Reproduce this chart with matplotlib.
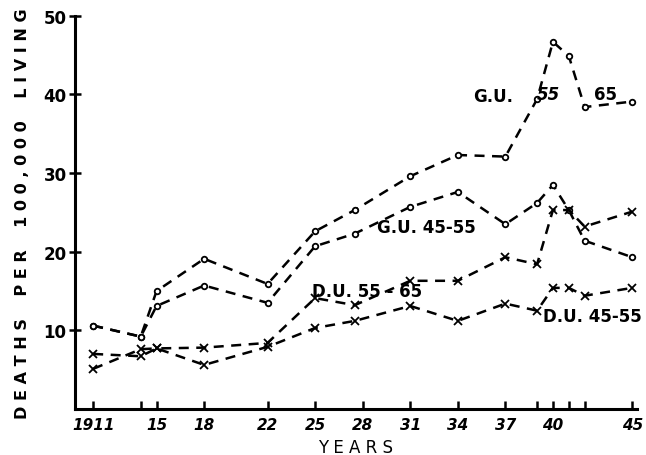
"""
    Deaths per 100,000 living, G.U. and D.U. by age group, 1911-1945.
"""
import matplotlib
matplotlib.use('Agg')
import matplotlib.pyplot as plt

# Years (points sit a little left of the 28 tick in the drawing)
YEARS = [1911, 1914, 1915, 1918, 1922, 1925, 1927.5, 1931, 1934, 1937,
         1939, 1940, 1941, 1942, 1945]

GU_55_65 = [10.6, 9.2, 15.0, 19.1, 15.9, 22.6, 25.3, 29.6, 32.3, 32.1,
            39.4, 46.7, 44.9, 38.4, 39.1]
GU_45_55 = [10.6, 9.2, 13.1, 15.7, 13.5, 20.7, 22.3, 25.7, 27.6, 23.5,
            26.2, 28.5, 25.3, 21.4, 19.3]
DU_55_65 = [7.0, 6.7, 7.7, 7.8, 8.4, 14.1, 13.2, 16.3, 16.3, 19.3,
            18.4, 25.3, 25.3, 23.2, 25.1]
DU_45_55 = [5.1, 7.6, 7.7, 5.6, 7.9, 10.3, 11.2, 13.1, 11.2, 13.4,
            12.5, 15.4, 15.4, 14.4, 15.4]

MAJOR_TICKS = [1911, 1915, 1918, 1922, 1925, 1928, 1931, 1934, 1937, 1940, 1945]
MAJOR_LABELS = ['1911', '15', '18', '22', '25', '28', '31', '34', '37', '40', '45']
MINOR_TICKS = [1914, 1939, 1941, 1942]
Y_TICKS = [10, 20, 30, 40, 50]

FONT = 'DejaVu Sans'


def draw_series(ax, values, marker):
    """
        One hand-drawn looking dashed series.
    """
    ax.plot(YEARS, values, color='black', linestyle=(0, (4, 3)), linewidth=1.8,
            marker=marker, markersize=4 if marker == 'o' else 6,
            markerfacecolor='white', markeredgecolor='black', markeredgewidth=1.3)


def main():
    fig = plt.figure(figsize=(6.46, 4.56), dpi=100)
    ax = fig.add_axes([0.116, 0.101, 0.870, 0.862])

    draw_series(ax, GU_55_65, 'o')
    draw_series(ax, GU_45_55, 'o')
    draw_series(ax, DU_55_65, 'x')
    draw_series(ax, DU_45_55, 'x')

    ax.set_xlim(1909.85, 1945.3)
    ax.set_ylim(0, 50)

    ax.spines['top'].set_visible(False)
    ax.spines['right'].set_visible(False)
    ax.spines['left'].set_linewidth(2.2)
    ax.spines['bottom'].set_linewidth(2.2)

    ax.set_xticks(MAJOR_TICKS)
    ax.set_xticklabels(MAJOR_LABELS, fontsize=11, fontweight='bold', family=FONT,
                       style='italic')
    ax.set_xticks(MINOR_TICKS, minor=True)
    ax.tick_params(axis='x', which='both', direction='in', length=6, width=1.8, pad=6)

    ax.set_yticks(Y_TICKS)
    ax.set_yticklabels([str(v) for v in Y_TICKS], fontsize=12, fontweight='bold',
                       family=FONT)
    ax.tick_params(axis='y', direction='inout', length=8, width=1.8, pad=2)

    ax.set_xlabel('Y E A R S', fontsize=12, family=FONT, labelpad=4)
    ax.set_ylabel('D E A T H S    P E R    1 0 0 , 0 0 0    L I V I N G',
                  fontsize=11.5, fontweight='bold', family=FONT, labelpad=10)

    text_kw = dict(fontsize=12, fontweight='bold', family=FONT, ha='center', va='center')
    ax.text(1936.2, 39.8, 'G.U.', **text_kw)
    ax.text(1939.7, 40.0, '55', style='italic', **text_kw)
    ax.text(1943.3, 40.0, '65', **text_kw)
    ax.text(1932.0, 23.2, 'G.U. 45-55', **text_kw)
    ax.text(1928.3, 15.0, 'D.U. 55 - 65', **text_kw)
    ax.text(1942.5, 11.8, 'D.U. 45-55', **text_kw)

    fig.savefig('out.png', dpi=100)


if __name__ == "__main__":
    main()
